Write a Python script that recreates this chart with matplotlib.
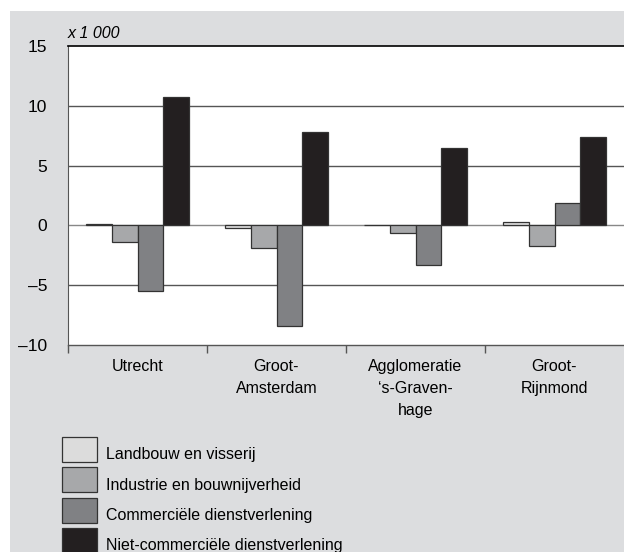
import numpy as np
import matplotlib
matplotlib.use("Agg")
import matplotlib.pyplot as plt
from matplotlib.patches import Rectangle

plt.rcParams['font.family'] = ['Liberation Sans', 'DejaVu Sans']

regions = ["Utrecht", "Groot-\nAmsterdam", "Agglomeratie\n\u2018s-Graven-\nhage", "Groot-\nRijnmond"]
series = ["Landbouw en visserij", "Industrie en bouwnijverheid",
          "Commerci\u00eble dienstverlening", "Niet-commerci\u00eble dienstverlening"]
landbouw = [0.1, -0.2, 0.0, 0.3]
industrie = [-1.4, -1.9, -0.6, -1.7]
commercieel = [-5.5, -8.4, -3.3, 1.9]
niet_commercieel = [10.7, 7.8, 6.5, 7.4]
yticks = [15, 10, 5, 0, -5, -10]
ytick_labels = ["15", "10", "5", "0", "\u20135", "\u201310"]

colors = ["#dcdcdc", "#a7a8aa", "#808184", "#231f20"]
bg = "#dcdddf"

fig = plt.figure(figsize=(6.24, 5.52), dpi=100)
W, H = 624, 552
# grey page background
fig.patches.append(Rectangle((10 / W, 0), 1, (H - 11) / H, transform=fig.transFigure,
                             facecolor=bg, edgecolor="none", zorder=-5))

ax = fig.add_axes([68 / W, 1 - 345 / H, (624 - 68) / W, (345 - 46) / H])
ax.set_zorder(2)
ax.set_facecolor("white")

x = np.arange(len(regions))
w = 0.184
for i, vals in enumerate([landbouw, industrie, commercieel, niet_commercieel]):
    ax.bar(x + (i - 1.5) * w, vals, w, color=colors[i], edgecolor="#333333",
           linewidth=0.9, zorder=3)

ax.set_xlim(-0.5, 3.5)
ax.set_ylim(-10, 15)
for v in [10, 5, -5]:
    ax.axhline(v, color="#555555", linewidth=1.0, zorder=1)
ax.axhline(0, color="#888888", linewidth=1.0, zorder=2)

ax.set_yticks(yticks)
ax.set_yticklabels(ytick_labels, fontsize=12.5)
ax.tick_params(axis="y", length=0, pad=15)

ax.set_xticks([-0.5, 0.5, 1.5, 2.5])
ax.set_xticklabels([])
ax.tick_params(axis="x", length=6, direction="out", color="#555555", width=1)
for xi, lab in zip(x, regions):
    ax.text(xi, -11.2, lab, ha="center", va="top", fontsize=11.5, linespacing=1.55)

ax.spines["right"].set_visible(False)
ax.spines["top"].set_color("black")
ax.spines["top"].set_linewidth(1.2)
ax.spines["left"].set_color("#555555")
ax.spines["bottom"].set_color("#555555")
ax.spines["bottom"].set_linewidth(1.0)

fig.text(68 / W, 1 - 33 / H, "x 1 000", fontsize=11.5, style="italic", va="center", ha="left")

# legend
for i, name in enumerate(series):
    top = 437 + i * 30.3
    fig.patches.append(Rectangle((62 / W, 1 - (top + 25) / H), 35 / W, 25 / H,
                                 transform=fig.transFigure, facecolor=colors[i],
                                 edgecolor="#333333", linewidth=0.9, zorder=2))
    fig.text(106 / W, 1 - (top + 18) / H, name, fontsize=11.5, va="center", ha="left")

fig.savefig("out.png", dpi=100)
